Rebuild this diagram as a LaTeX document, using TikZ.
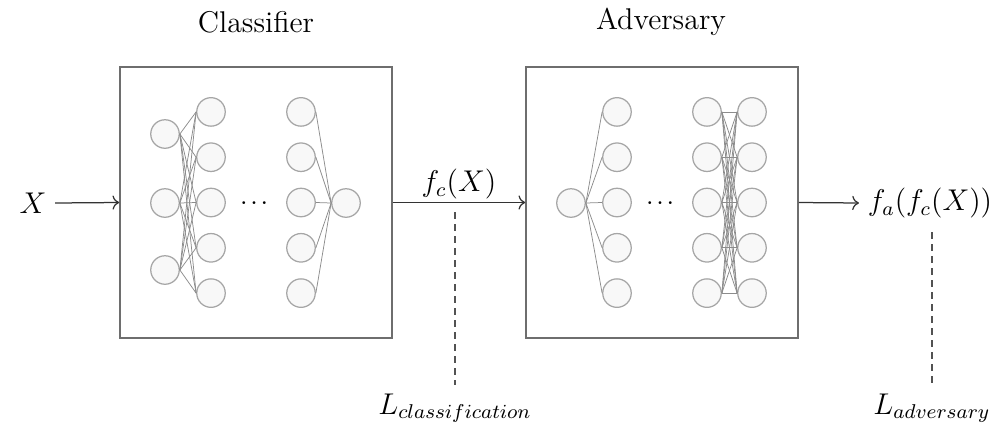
\documentclass[tikz,border=0pt]{standalone}
\usepackage{amsmath,amssymb}
\usetikzlibrary{arrows.meta,positioning,calc}
\definecolor{framegray}{HTML}{6E6E6E}
\definecolor{unitgray}{HTML}{A6A6A6}
\definecolor{unitfill}{HTML}{F8F8F8}
\definecolor{wiregray}{HTML}{8C8C8C}
\definecolor{ink}{HTML}{333333}

\begin{document}
\begin{tikzpicture}[
  x=0.4pt,y=-0.4pt,
  font=\large,
  frame/.style={draw=framegray,line width=.6pt,minimum width=108.8pt,minimum height=108.4pt,inner sep=0pt},
  unit/.style={circle,draw=unitgray,fill=unitfill,line width=.5pt,minimum size=11.4pt,inner sep=0pt},
  wire/.style={draw=wiregray,line width=.3pt},
  arrow/.style={->,>=To,line width=.5pt,draw=ink},
  lossline/.style={draw=ink!85,line width=.5pt,dash pattern=on 2.8pt off 2pt},
  ellip/.style={font=\scriptsize,inner sep=0pt}
]
\useasboundingbox (0,0) rectangle (1003,428);

% Classifier network
\node[frame] (clsbox) at (256,202.5) {};
\node (clstitle) at (256,22) {Classifier};
\foreach \i/\y in {1/134,2/203,3/270}{\node[unit] (c1\i) at (165,\y) {};}
\foreach \i in {1,...,5}{
  \node[unit] (c2\i) at (211,{202.5+(\i-3)*45.3}) {};
  \node[unit] (c3\i) at (301,{202.5+(\i-3)*45.3}) {};
}
\node[unit] (cout) at (346,203) {};
\node[ellip] (cdots) at (256,203) {$\boldsymbol{\cdots}$};
\foreach \i in {1,2,3}{\foreach \j in {1,...,5}{\draw[wire] (c1\i.east)--(c2\j.west);}}
\foreach \i in {1,...,5}{\draw[wire] (c3\i.east)--(cout.west);}

% Adversary network
\node[frame] (advbox) at (662,202.5) {};
\node (advtitle) at (661,22) {Adversary};
\node[unit] (a1) at (571,203) {};
\foreach \i in {1,...,5}{
  \node[unit] (a2\i) at (617,{202.5+(\i-3)*45.3}) {};
  \node[unit] (a3\i) at (707,{202.5+(\i-3)*45.3}) {};
  \node[unit] (a4\i) at (752,{202.5+(\i-3)*45.3}) {};
}
\node[ellip] (adots) at (662,203) {$\boldsymbol{\cdots}$};
\foreach \j in {1,...,5}{\draw[wire] (a1.east)--(a2\j.west);}
\foreach \i in {1,...,5}{\foreach \j in {1,...,5}{\draw[wire] (a3\i.east)--(a4\j.west);}}

% Signals and losses
\node (xin) at (33,203) {$X$};
\node (fa) at (930,203) {$f_a(f_c(X))$};
\draw[arrow] (xin.east)--(clsbox.west);
\draw[arrow] (clsbox.east)--node[above,inner sep=1pt] (fc) {$f_c(X)$} (advbox.west);
\draw[arrow] (advbox.east)--(fa.west);

\coordinate (clsloss) at (455,212);
\coordinate (advloss) at (932,232);
\node (lcls) at (455,408) {$L_{classification}$};
\node (ladv) at (932,408) {$L_{adversary}$};
\draw[lossline] (clsloss)--(lcls.north);
\draw[lossline] (advloss)--(ladv.north);
\end{tikzpicture}
\end{document}
